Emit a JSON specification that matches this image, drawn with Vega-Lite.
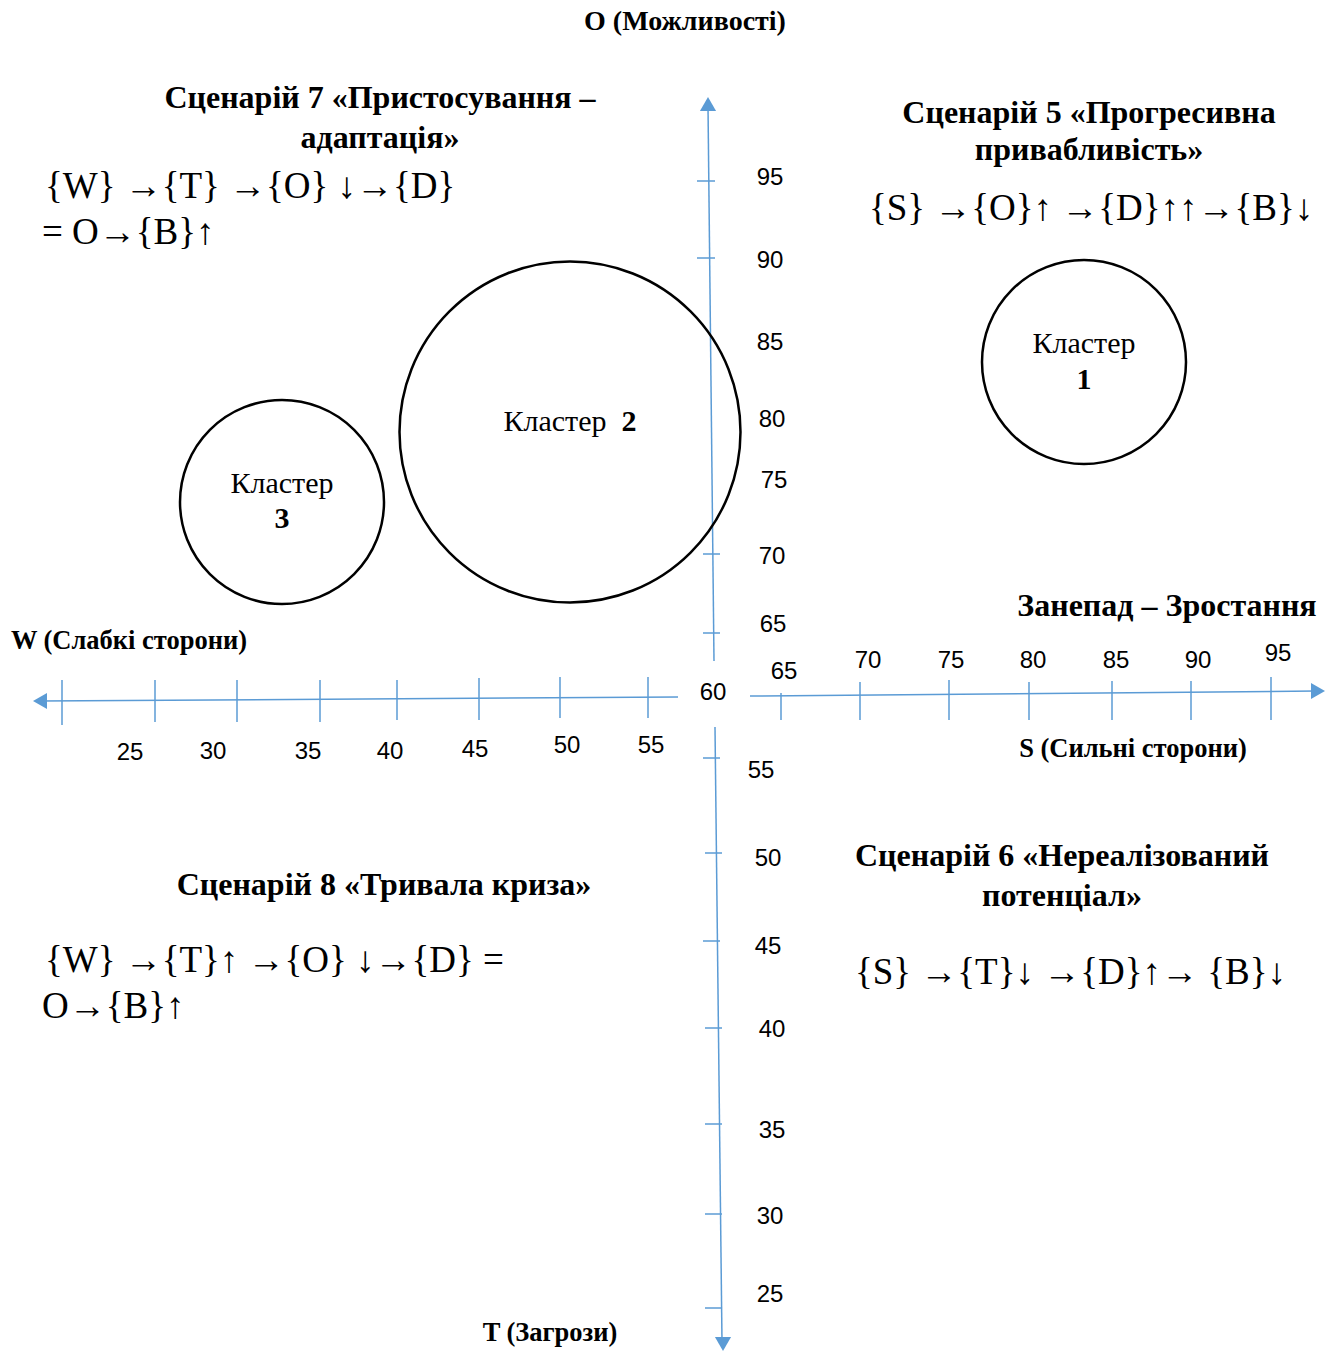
{
  "$schema": "https://vega.github.io/schema/vega-lite/v6.json",
  "width": 1340,
  "height": 1353,
  "autosize": {"type": "fit", "contains": "padding"},
  "padding": 0,
  "background": "white",
  "config": {"view": {"stroke": null}},
  "datasets": {
    "lines": [
      {"part": "axis", "x": 40, "y": 701, "x2": 678, "y2": 697},
      {"part": "axis", "x": 750, "y": 696, "x2": 1316, "y2": 691},
      {"part": "axis", "x": 708, "y": 106, "x2": 714, "y2": 661},
      {"part": "axis", "x": 715, "y": 727, "x2": 722, "y2": 1342},
      {"part": "tick", "x": 62, "y": 680, "x2": 62, "y2": 725},
      {"part": "tick", "x": 155, "y": 680, "x2": 155, "y2": 722},
      {"part": "tick", "x": 237, "y": 680, "x2": 237, "y2": 722},
      {"part": "tick", "x": 320, "y": 680, "x2": 320, "y2": 722},
      {"part": "tick", "x": 397, "y": 680, "x2": 397, "y2": 720},
      {"part": "tick", "x": 479, "y": 678, "x2": 479, "y2": 720},
      {"part": "tick", "x": 560, "y": 677, "x2": 560, "y2": 718},
      {"part": "tick", "x": 648, "y": 677, "x2": 648, "y2": 718},
      {"part": "tick", "x": 781, "y": 693, "x2": 781, "y2": 720},
      {"part": "tick", "x": 860, "y": 682, "x2": 860, "y2": 720},
      {"part": "tick", "x": 949, "y": 680, "x2": 949, "y2": 720},
      {"part": "tick", "x": 1029, "y": 682, "x2": 1029, "y2": 720},
      {"part": "tick", "x": 1112, "y": 681, "x2": 1112, "y2": 720},
      {"part": "tick", "x": 1191, "y": 681, "x2": 1191, "y2": 720},
      {"part": "tick", "x": 1271, "y": 677, "x2": 1271, "y2": 720},
      {"part": "tick", "x": 697, "y": 181, "x2": 715, "y2": 181},
      {"part": "tick", "x": 697, "y": 258, "x2": 715, "y2": 258},
      {"part": "tick", "x": 703, "y": 554, "x2": 720, "y2": 554},
      {"part": "tick", "x": 703, "y": 633, "x2": 720, "y2": 633},
      {"part": "tick", "x": 703, "y": 758, "x2": 720, "y2": 758},
      {"part": "tick", "x": 705, "y": 853, "x2": 722, "y2": 853},
      {"part": "tick", "x": 703, "y": 941, "x2": 720, "y2": 941},
      {"part": "tick", "x": 705, "y": 1028, "x2": 722, "y2": 1028},
      {"part": "tick", "x": 705, "y": 1124, "x2": 722, "y2": 1124},
      {"part": "tick", "x": 705, "y": 1214, "x2": 722, "y2": 1214},
      {"part": "tick", "x": 705, "y": 1308, "x2": 722, "y2": 1308}
    ],
    "arrows": [
      {"dir": "left", "x": 40, "y": 701},
      {"dir": "right", "x": 1318, "y": 691},
      {"dir": "up", "x": 708, "y": 104},
      {"dir": "down", "x": 723, "y": 1344}
    ],
    "clusters": [
      {"cluster": "3", "x": 282, "y": 502, "d": 204},
      {"cluster": "2", "x": 570, "y": 432, "d": 341},
      {"cluster": "1", "x": 1084, "y": 362, "d": 204}
    ],
    "labels": [
      {"kind": "num", "text": "95", "x": 770, "y": 178},
      {"kind": "num", "text": "90", "x": 770, "y": 261},
      {"kind": "num", "text": "85", "x": 770, "y": 343},
      {"kind": "num", "text": "80", "x": 772, "y": 420},
      {"kind": "num", "text": "75", "x": 774, "y": 481},
      {"kind": "num", "text": "70", "x": 772, "y": 557},
      {"kind": "num", "text": "65", "x": 773, "y": 625},
      {"kind": "num", "text": "60", "x": 713, "y": 693},
      {"kind": "num", "text": "55", "x": 761, "y": 771},
      {"kind": "num", "text": "50", "x": 768, "y": 859},
      {"kind": "num", "text": "45", "x": 768, "y": 947},
      {"kind": "num", "text": "40", "x": 772, "y": 1030},
      {"kind": "num", "text": "35", "x": 772, "y": 1131},
      {"kind": "num", "text": "30", "x": 770, "y": 1217},
      {"kind": "num", "text": "25", "x": 770, "y": 1295},
      {"kind": "num", "text": "25", "x": 130, "y": 753},
      {"kind": "num", "text": "30", "x": 213, "y": 752},
      {"kind": "num", "text": "35", "x": 308, "y": 752},
      {"kind": "num", "text": "40", "x": 390, "y": 752},
      {"kind": "num", "text": "45", "x": 475, "y": 750},
      {"kind": "num", "text": "50", "x": 567, "y": 746},
      {"kind": "num", "text": "55", "x": 651, "y": 746},
      {"kind": "num", "text": "65", "x": 784, "y": 672},
      {"kind": "num", "text": "70", "x": 868, "y": 661},
      {"kind": "num", "text": "75", "x": 951, "y": 661},
      {"kind": "num", "text": "80", "x": 1033, "y": 661},
      {"kind": "num", "text": "85", "x": 1116, "y": 661},
      {"kind": "num", "text": "90", "x": 1198, "y": 661},
      {"kind": "num", "text": "95", "x": 1278, "y": 654},
      {"kind": "axisname", "text": "W (Слабкі сторони)", "x": 129, "y": 641},
      {"kind": "axisname", "text": "S (Сильні сторони)", "x": 1133, "y": 749},
      {"kind": "axisname", "text": "T (Загрози)", "x": 550, "y": 1333},
      {"kind": "bigname", "text": "Занепад – Зростання", "x": 1167, "y": 606},
      {"kind": "topname", "text": "O (Можливості)", "x": 685, "y": 22},
      {"kind": "heading", "text": "Сценарій 7 «Пристосування –", "x": 380, "y": 98},
      {"kind": "heading", "text": "адаптація»", "x": 380, "y": 138},
      {"kind": "heading", "text": "Сценарій 5 «Прогресивна", "x": 1089, "y": 113},
      {"kind": "heading", "text": "привабливість»", "x": 1089, "y": 150},
      {"kind": "heading", "text": "Сценарій 8 «Тривала криза»", "x": 384, "y": 885},
      {"kind": "heading", "text": "Сценарій 6 «Нереалізований", "x": 1062, "y": 856},
      {"kind": "heading", "text": "потенціал»", "x": 1062, "y": 896},
      {"kind": "formula", "text": "{W} →{T} →{O} ↓→{D}", "x": 45, "y": 187},
      {"kind": "formula", "text": "= O→{B}↑", "x": 42, "y": 233},
      {"kind": "formula", "text": "{S} →{O}↑ →{D}↑↑→{B}↓", "x": 869, "y": 209},
      {"kind": "formula", "text": "{W} →{T}↑ →{O} ↓→{D} =", "x": 45, "y": 961},
      {"kind": "formula", "text": "O→{B}↑", "x": 42, "y": 1007},
      {"kind": "formula", "text": "{S} →{T}↓ →{D}↑→ {B}↓", "x": 855, "y": 973},
      {"kind": "cluster", "text": "Кластер", "x": 282, "y": 484},
      {"kind": "clusternum", "text": "3", "x": 282, "y": 519},
      {"kind": "cluster", "text": "Кластер", "x": 555, "y": 422},
      {"kind": "clusternum", "text": "2", "x": 629, "y": 422},
      {"kind": "cluster", "text": "Кластер", "x": 1084, "y": 344},
      {"kind": "clusternum", "text": "1", "x": 1084, "y": 380}
    ]
  },
  "encoding": {
    "x": {"field": "x", "type": "quantitative", "axis": null, "scale": {"domain": [0, 1340], "nice": false, "zero": false}},
    "y": {"field": "y", "type": "quantitative", "axis": null, "scale": {"domain": [0, 1353], "nice": false, "zero": false, "reverse": true}}
  },
  "layer": [
    {
      "data": {"name": "lines"},
      "mark": {"type": "rule", "color": "#5B9BD5", "strokeWidth": 1.5},
      "encoding": {
        "x2": {"field": "x2"},
        "y2": {"field": "y2"}
      }
    },
    {
      "data": {"name": "arrows"},
      "mark": {"type": "point", "filled": true, "color": "#5B9BD5", "opacity": 1, "size": 260},
      "encoding": {
        "shape": {"field": "dir", "type": "nominal", "legend": null, "scale": {"domain": ["left", "right", "up", "down"], "range": ["triangle-left", "triangle-right", "triangle-up", "triangle-down"]}}
      }
    },
    {
      "data": {"name": "clusters"},
      "mark": {"type": "point", "shape": "circle", "filled": false, "stroke": "black", "strokeWidth": 2.5, "opacity": 1, "fill": null},
      "encoding": {
        "size": {"field": "d", "type": "quantitative", "legend": null, "scale": {"type": "pow", "exponent": 2, "domain": [0, 341], "range": [0, 116281]}}
      }
    },
    {
      "data": {"name": "labels"},
      "transform": [{"filter": "datum.kind === 'num'"}],
      "mark": {"type": "text", "font": "Liberation Sans", "fontSize": 24, "color": "black", "align": "center", "baseline": "middle"},
      "encoding": {"text": {"field": "text"}}
    },
    {
      "data": {"name": "labels"},
      "transform": [{"filter": "datum.kind === 'axisname'"}],
      "mark": {"type": "text", "font": "Liberation Serif", "fontWeight": "bold", "fontSize": 26.5, "color": "black", "align": "center", "baseline": "middle"},
      "encoding": {"text": {"field": "text"}}
    },
    {
      "data": {"name": "labels"},
      "transform": [{"filter": "datum.kind === 'bigname'"}],
      "mark": {"type": "text", "font": "Liberation Serif", "fontWeight": "bold", "fontSize": 32, "color": "black", "align": "center", "baseline": "middle"},
      "encoding": {"text": {"field": "text"}}
    },
    {
      "data": {"name": "labels"},
      "transform": [{"filter": "datum.kind === 'topname'"}],
      "mark": {"type": "text", "font": "Liberation Serif", "fontWeight": "bold", "fontSize": 28, "color": "black", "align": "center", "baseline": "middle"},
      "encoding": {"text": {"field": "text"}}
    },
    {
      "data": {"name": "labels"},
      "transform": [{"filter": "datum.kind === 'heading'"}],
      "mark": {"type": "text", "font": "Liberation Serif", "fontWeight": "bold", "fontSize": 32, "color": "black", "align": "center", "baseline": "middle"},
      "encoding": {"text": {"field": "text"}}
    },
    {
      "data": {"name": "labels"},
      "transform": [{"filter": "datum.kind === 'formula'"}],
      "mark": {"type": "text", "font": "Liberation Serif", "fontSize": 37, "color": "black", "align": "left", "baseline": "middle"},
      "encoding": {"text": {"field": "text"}}
    },
    {
      "data": {"name": "labels"},
      "transform": [{"filter": "datum.kind === 'cluster'"}],
      "mark": {"type": "text", "font": "Liberation Serif", "fontSize": 30, "color": "black", "align": "center", "baseline": "middle"},
      "encoding": {"text": {"field": "text"}}
    },
    {
      "data": {"name": "labels"},
      "transform": [{"filter": "datum.kind === 'clusternum'"}],
      "mark": {"type": "text", "font": "Liberation Serif", "fontWeight": "bold", "fontSize": 30, "color": "black", "align": "center", "baseline": "middle"},
      "encoding": {"text": {"field": "text"}}
    }
  ]
}
